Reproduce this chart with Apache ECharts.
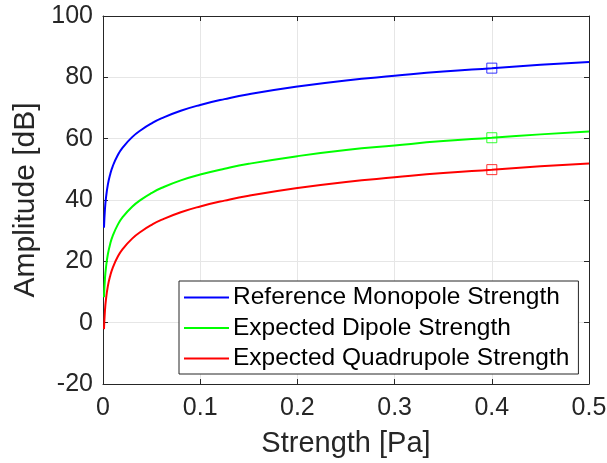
<!DOCTYPE html>
<html>
<head>
<meta charset="utf-8">
<script src="https://cdn.jsdelivr.net/npm/echarts@6/dist/echarts.min.js"></script>
<style>
  html, body { margin: 0; padding: 0; background: #fff; }
  #chart { width: 607px; height: 463px; }
</style>
</head>
<body>
<div id="chart"></div>
<script>
// values
const strength = [0.001, 0.002, 0.003, 0.005, 0.0075, 0.01, 0.015, 0.02, 0.03, 0.04, 0.05, 0.06,
  0.08, 0.1, 0.125, 0.15, 0.2, 0.25, 0.3, 0.35, 0.4, 0.45, 0.5];
const monopole = [31.0, 37.0, 40.5, 45.0, 48.5, 51.0, 54.5, 57.0, 60.5, 63.0, 65.0, 66.6,
  69.1, 71.0, 72.9, 74.5, 77.0, 79.0, 80.5, 81.9, 83.0, 84.1, 85.0];
const dipole = [8.3, 14.3, 17.8, 22.3, 25.8, 28.3, 31.8, 34.3, 37.8, 40.3, 42.3, 43.9,
  46.4, 48.3, 50.2, 51.8, 54.3, 56.3, 57.8, 59.2, 60.3, 61.4, 62.3];
const quadrupole = [-2.1, 3.9, 7.4, 11.9, 15.4, 17.9, 21.4, 23.9, 27.4, 29.9, 31.9, 33.5,
  36.0, 37.9, 39.8, 41.4, 43.9, 45.9, 47.4, 48.8, 49.9, 51.0, 51.9];
const markerX = [0.4];
const markerMono = [83.0];
const markerDip = [60.3];
const markerQuad = [49.9];
const seriesNames = ['Reference Monopole Strength', 'Expected Dipole Strength', 'Expected Quadrupole Strength'];
const colors = ['#0000ff', '#00ff00', '#ff0000'];

const FONT = 'Liberation Sans';
const pairs = (xs, ys) => xs.map((x, i) => [x, ys[i]]);

const chart = echarts.init(document.getElementById('chart'));

const lineSeries = [monopole, dipole, quadrupole].map((ys, i) => ({
  name: seriesNames[i],
  type: 'line',
  data: pairs(strength, ys),
  smooth: true,
  showSymbol: false,
  lineStyle: { color: colors[i], width: 2 },
  itemStyle: { color: colors[i] },
  z: 3
}));

const markerSeries = [markerMono, markerDip, markerQuad].map((ys, i) => ({
  name: 'marker' + i,
  type: 'scatter',
  data: pairs(markerX, ys),
  symbol: 'rect',
  symbolSize: 10,
  itemStyle: { color: 'rgba(0,0,0,0)', borderColor: colors[i], borderWidth: 1 },
  z: 4
}));

const axisLine = { show: true, onZero: false, lineStyle: { color: '#262626', width: 1 } };
const axisTick = { show: true, inside: true, length: 5, lineStyle: { color: '#262626' } };

const option = {
  backgroundColor: '#fff',
  animation: false,
  textStyle: { fontFamily: FONT },
  grid: { left: 103, right: 18, top: 16, bottom: 79, show: false, outerBoundsMode: 'none' },
  legend: {
    data: seriesNames,
    orient: 'vertical',
    left: 179,
    top: 281,
    icon: 'rect',
    itemWidth: 45,
    itemHeight: 2,
    itemGap: 5.5,
    padding: [4, 9, 3, 5],
    borderColor: '#262626',
    borderWidth: 1,
    backgroundColor: '#fff',
    textStyle: { fontFamily: FONT, fontSize: 24.5, color: '#000', padding: [0, 0, 0, -1] }
  },
  xAxis: [
    {
      type: 'value', min: 0, max: 0.5, interval: 0.1,
      name: 'Strength [Pa]', nameLocation: 'middle', nameGap: 45,
      nameTextStyle: { fontFamily: FONT, fontSize: 29, color: '#262626' },
      axisLine, axisTick,
      axisLabel: { fontFamily: FONT, fontSize: 25, color: '#262626', margin: 12,
        formatter: v => String(+v.toFixed(1)) },
      splitLine: { show: true, lineStyle: { color: '#e6e6e6', width: 1 } }
    },
    {
      type: 'value', position: 'top', min: 0, max: 0.5, interval: 0.1,
      axisLine, axisTick,
      axisLabel: { show: false },
      splitLine: { show: false }
    }
  ],
  yAxis: [
    {
      type: 'value', min: -20, max: 100, interval: 20,
      name: 'Amplitude [dB]', nameLocation: 'middle', nameGap: 61,
      nameTextStyle: { fontFamily: FONT, fontSize: 30, color: '#262626' },
      axisLine, axisTick,
      axisLabel: { fontFamily: FONT, fontSize: 25, color: '#262626', margin: 10 },
      splitLine: { show: true, lineStyle: { color: '#e6e6e6', width: 1 } }
    },
    {
      type: 'value', position: 'right', min: -20, max: 100, interval: 20,
      axisLine, axisTick,
      axisLabel: { show: false },
      splitLine: { show: false }
    }
  ],
  series: [...lineSeries, ...markerSeries]
};

chart.setOption(option);
</script>
</body>
</html>
